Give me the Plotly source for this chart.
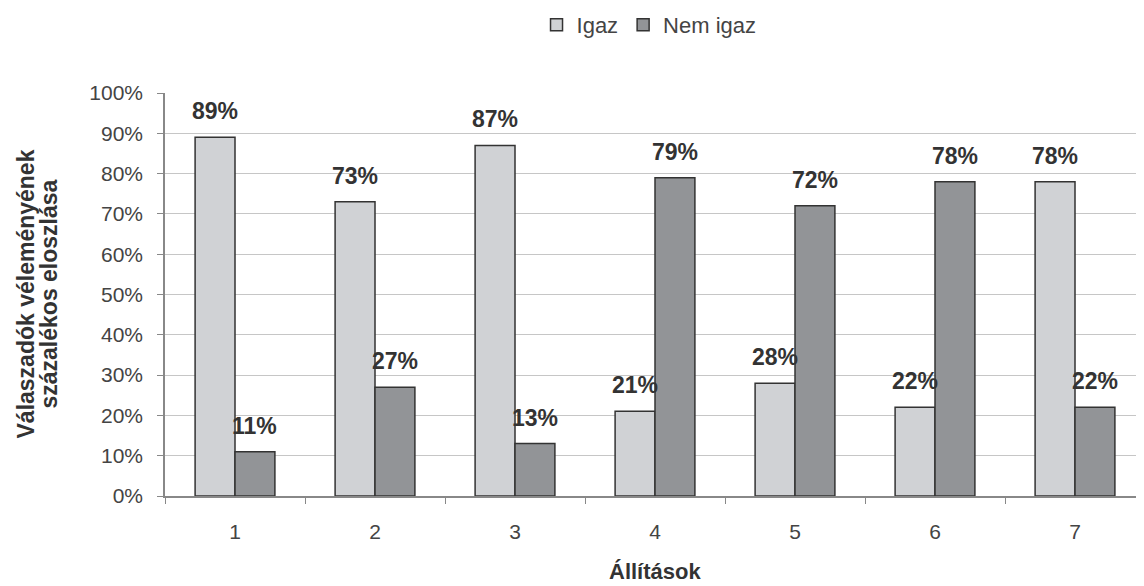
import plotly.graph_objects as go

categories = ["1", "2", "3", "4", "5", "6", "7"]
igaz = [89, 73, 87, 21, 28, 22, 78]
nem_igaz = [11, 27, 13, 79, 72, 78, 22]
y_ticks = [0, 10, 20, 30, 40, 50, 60, 70, 80, 90, 100]
y_tick_labels = [f"{v}%" for v in y_ticks]
y_title_lines = ["Válaszadók véleményének", "százalékos eloszlása"]
x_title = "Állítások"

label_font = dict(family="Liberation Sans", size=23, color="#333333")
title_font = dict(family="Liberation Sans", size=23, color="#333333")
tick_font = dict(family="Liberation Sans", size=21, color="#444444")
bargap = 0.43

fig = go.Figure()
fig.add_trace(go.Bar(
    name="Igaz", x=categories, y=igaz,
    marker=dict(color="#d0d2d5", line=dict(color="#333333", width=1.5)),
))
fig.add_trace(go.Bar(
    name="Nem igaz", x=categories, y=nem_igaz,
    marker=dict(color="#929497", line=dict(color="#333333", width=1.5)),
))

ml, mr, mt, mb = 157, 7, 85, 98
W, H = 1144, 586
cat_px = (W - ml - mr) / len(categories)
half_bar = cat_px * (1 - bargap) / 4

annotations = []
for series, sign in ((igaz, -1), (nem_igaz, 1)):
    for i, v in enumerate(series):
        annotations.append(dict(
            x=i, y=v, xref="x", yref="y", text=f"<b>{v}%</b>",
            showarrow=False, xanchor="center", yanchor="bottom",
            xshift=sign * half_bar, yshift=11, font=label_font,
        ))

# y-axis title (two tightly spaced lines)
for k, line in enumerate(y_title_lines):
    annotations.append(dict(
        x=0, y=0.5, xref="paper", yref="paper", text=f"<b>{line}</b>",
        textangle=-90, showarrow=False, xanchor="center", yanchor="middle",
        xshift=-140 + 23 * k, font=title_font,
    ))
# x-axis title
annotations.append(dict(
    x=0.5, y=0, xref="paper", yref="paper", text=f"<b>{x_title}</b>",
    showarrow=False, xanchor="center", yanchor="middle", yshift=-75,
    font=dict(family="Liberation Sans", size=22, color="#333333"),
))

fig.update_layout(
    width=W, height=H,
    paper_bgcolor="white", plot_bgcolor="white",
    margin=dict(l=ml, r=mr, t=mt, b=mb, autoexpand=False),
    barmode="group", bargap=bargap, bargroupgap=0,
    font=dict(family="Liberation Sans", color="#444444", size=21),
    legend=dict(orientation="h", x=0.462, xanchor="left", xref="container",
                y=0.971, yanchor="middle", yref="container",
                font=dict(family="Liberation Sans", size=22, color="#444444"),
                traceorder="normal", itemwidth=30, tracegroupgap=0),
    showlegend=True,
    annotations=annotations,
)
fig.update_xaxes(
    type="category", tickson="boundaries", ticks="outside", ticklen=6,
    tickcolor="#888888", showline=True, linecolor="#888888", linewidth=1.5,
    showgrid=False, automargin=False, ticklabelstandoff=16,
    range=[-0.5, len(categories) - 0.5],
    tickfont=tick_font,
)
fig.update_yaxes(
    range=[0, 100], tickvals=y_ticks, ticktext=y_tick_labels, ticks="outside", ticklen=6,
    tickcolor="#888888", showline=True, linecolor="#888888", linewidth=1.5,
    showgrid=True, gridcolor="#c6c6c6", gridwidth=1, zeroline=False,
    automargin=False, ticklabelstandoff=10,
    tickfont=tick_font,
)

fig.write_html("out.html")
